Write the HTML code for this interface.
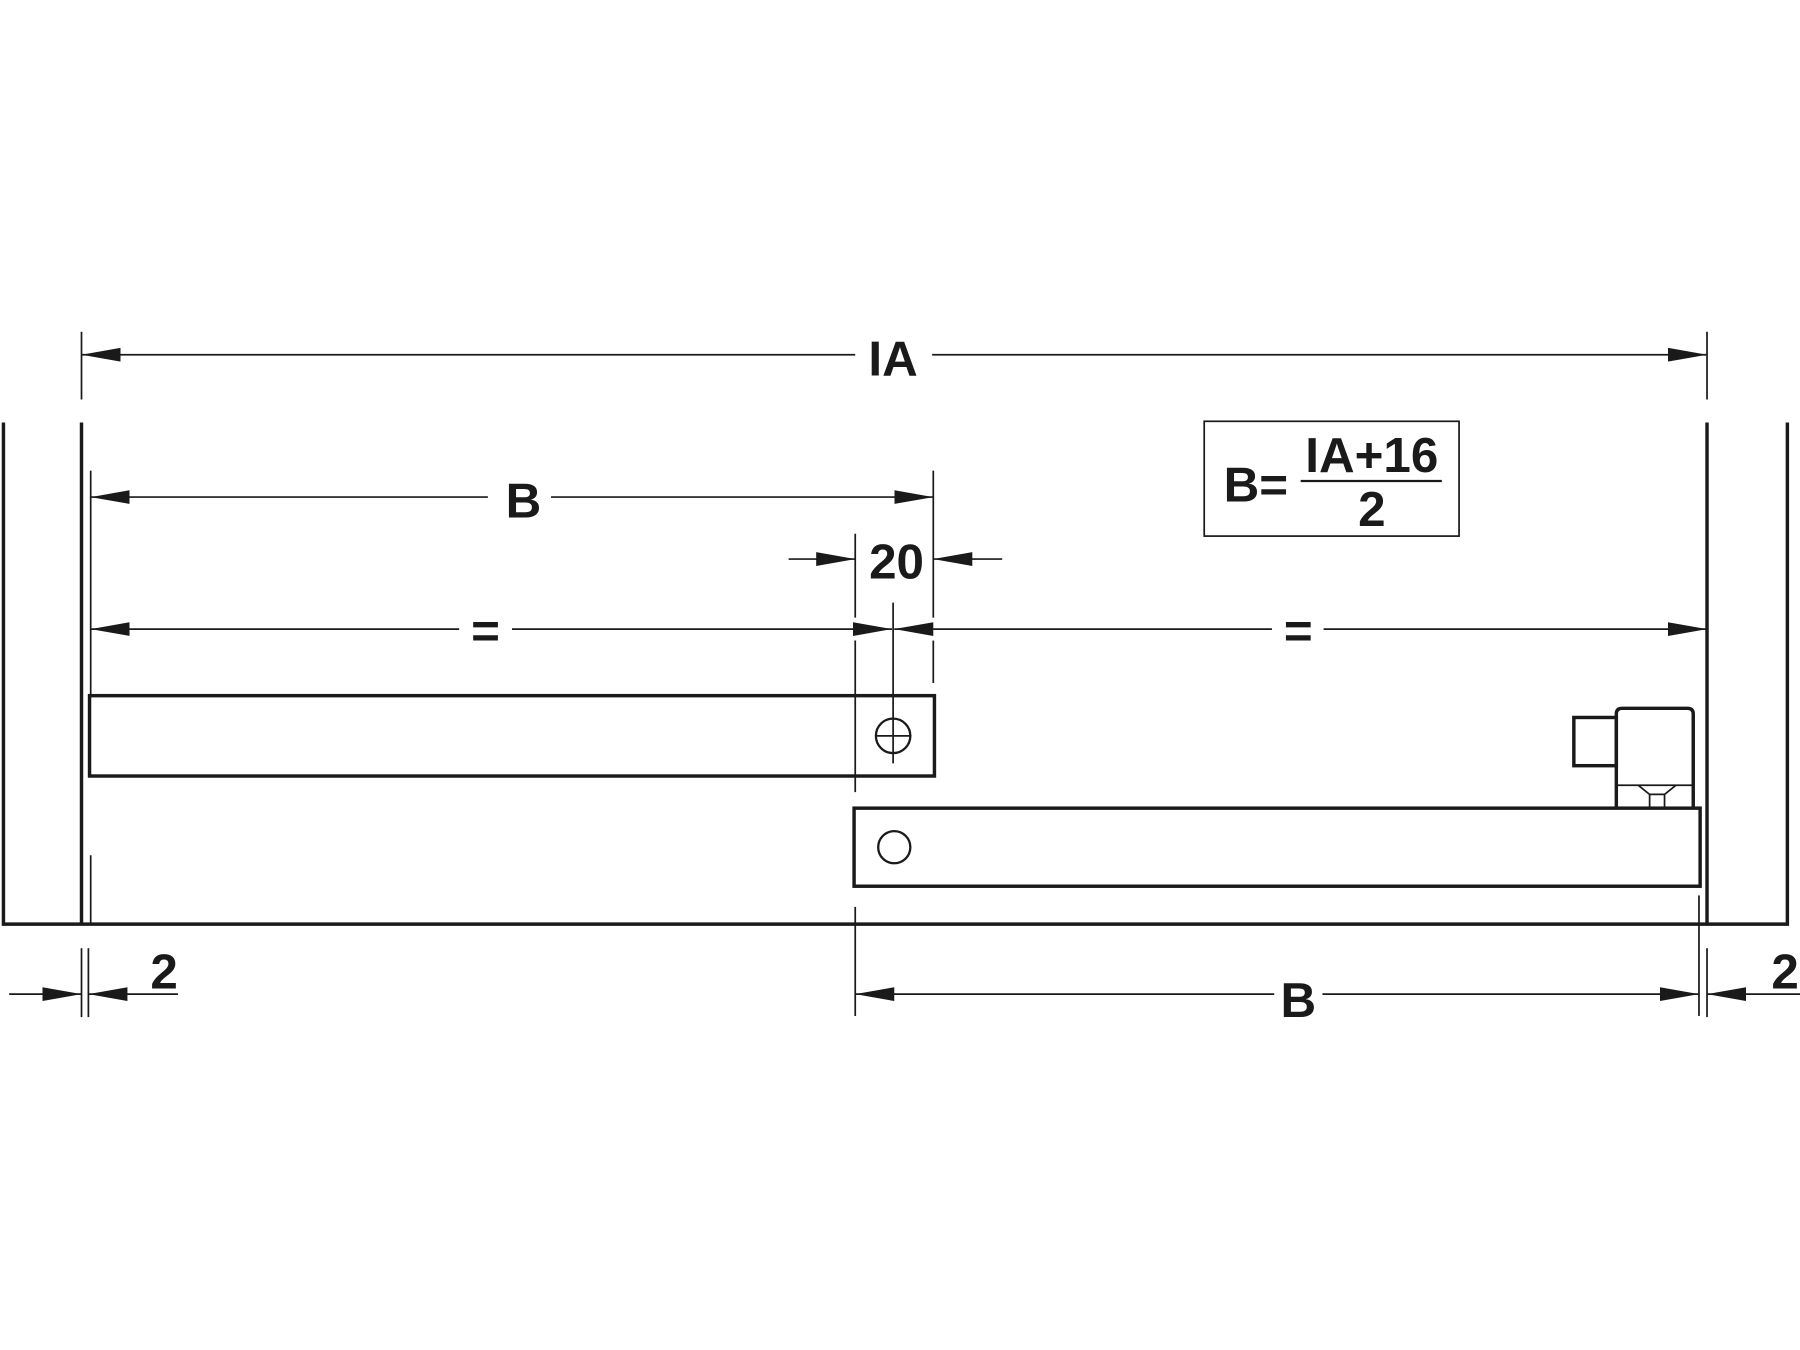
<!DOCTYPE html>
<html><head><meta charset="utf-8"><style>
html,body{margin:0;padding:0;background:#fff;}
svg{display:block;}
text{font-family:"Liberation Sans",Arial,sans-serif;font-weight:bold;fill:#1a1a1a;}
</style></head><body>
<svg width="1800" height="1350" viewBox="0 0 1568 1176" xmlns="http://www.w3.org/2000/svg">
<defs>
<marker id="a" viewBox="0 0 34 12" refX="34" refY="6" markerWidth="34" markerHeight="12" markerUnits="userSpaceOnUse" orient="auto-start-reverse"><path d="M0,0 L34,6 L0,12 Z" fill="#1a1a1a"/></marker>
</defs>
<g stroke="#1a1a1a" fill="none">
<path d="M3,368 V805 H1557 V368" stroke-width="3"/>
<line x1="71" y1="368" x2="71" y2="805" stroke-width="3"/>
<line x1="1487" y1="368" x2="1487" y2="805" stroke-width="3"/>
<g stroke-width="1.5">
<line x1="71" y1="289" x2="71" y2="348"/>
<line x1="1487" y1="289" x2="1487" y2="348"/>
<line x1="79" y1="410" x2="79" y2="606"/>
<line x1="79" y1="745" x2="79" y2="805"/>
<line x1="813" y1="410" x2="813" y2="538"/>
<line x1="813" y1="558" x2="813" y2="595"/>
<line x1="745" y1="465" x2="745" y2="538"/>
<line x1="745" y1="558" x2="745" y2="690"/>
<line x1="778" y1="525" x2="778" y2="665"/>
<line x1="763" y1="641" x2="794" y2="641"/>
<line x1="71" y1="826" x2="71" y2="886"/>
<line x1="77" y1="826" x2="77" y2="886"/>
<line x1="745" y1="790" x2="745" y2="885"/>
<line x1="1480" y1="780" x2="1480" y2="885"/>
<line x1="1487" y1="826" x2="1487" y2="886"/>
</g>
<g stroke-width="1.5">
<line x1="71" y1="309" x2="745" y2="309" marker-start="url(#a)"/>
<line x1="812" y1="309" x2="1487" y2="309" marker-end="url(#a)"/>
<line x1="79" y1="433" x2="425" y2="433" marker-start="url(#a)"/>
<line x1="480" y1="433" x2="813" y2="433" marker-end="url(#a)"/>
<line x1="687" y1="487" x2="745" y2="487" marker-end="url(#a)"/>
<line x1="873" y1="487" x2="813" y2="487" marker-end="url(#a)"/>
<line x1="79" y1="548" x2="400" y2="548" marker-start="url(#a)"/>
<line x1="446" y1="548" x2="777" y2="548" marker-end="url(#a)"/>
<line x1="779" y1="548" x2="1108" y2="548" marker-start="url(#a)"/>
<line x1="1153" y1="548" x2="1487" y2="548" marker-end="url(#a)"/>
<line x1="8" y1="866" x2="71" y2="866" marker-end="url(#a)"/>
<line x1="155" y1="866" x2="77" y2="866" marker-end="url(#a)"/>
<line x1="745" y1="866" x2="1110" y2="866" marker-start="url(#a)"/>
<line x1="1152" y1="866" x2="1480" y2="866" marker-end="url(#a)"/>
<line x1="1568" y1="866" x2="1487" y2="866" marker-end="url(#a)"/>
</g>
<rect x="78" y="606" width="736" height="70" stroke-width="3"/>
<circle cx="778" cy="641" r="15" stroke-width="2"/>
<rect x="744" y="704" width="737" height="68" stroke-width="3"/>
<circle cx="779" cy="738" r="14" stroke-width="2"/>
<rect x="1371" y="625" width="37" height="42" stroke-width="3"/>
<path d="M1408,704 V622 Q1408,617 1413,617 H1470 Q1475,617 1475,622 V704" stroke-width="3"/>
<line x1="1408" y1="684" x2="1475" y2="684" stroke-width="1.5"/>
<path d="M1427,684 L1437,692 H1450 L1460,684" stroke-width="1.5"/>
<path d="M1437,692 V704 M1450,692 V704" stroke-width="1.5"/>
<rect x="1049" y="367" width="222" height="100" stroke-width="1.5"/>
<line x1="1133" y1="419" x2="1256" y2="419" stroke-width="2"/>
</g>
<text x="778" y="327" font-size="43" text-anchor="middle">IA</text>
<text x="456" y="451" font-size="43" text-anchor="middle">B</text>
<text x="781" y="504" font-size="43" text-anchor="middle">20</text>
<text x="423" y="564" font-size="43" text-anchor="middle">=</text>
<text x="1131" y="564" font-size="43" text-anchor="middle">=</text>
<text x="143" y="861" font-size="43" text-anchor="middle">2</text>
<text x="1131" y="886" font-size="43" text-anchor="middle">B</text>
<text x="1555" y="861" font-size="43" text-anchor="middle">2</text>
<text x="1094" y="437" font-size="43" text-anchor="middle">B=</text>
<text x="1195" y="411" font-size="43" text-anchor="middle">IA+16</text>
<text x="1195" y="458" font-size="43" text-anchor="middle">2</text>
</svg>
</body></html>
